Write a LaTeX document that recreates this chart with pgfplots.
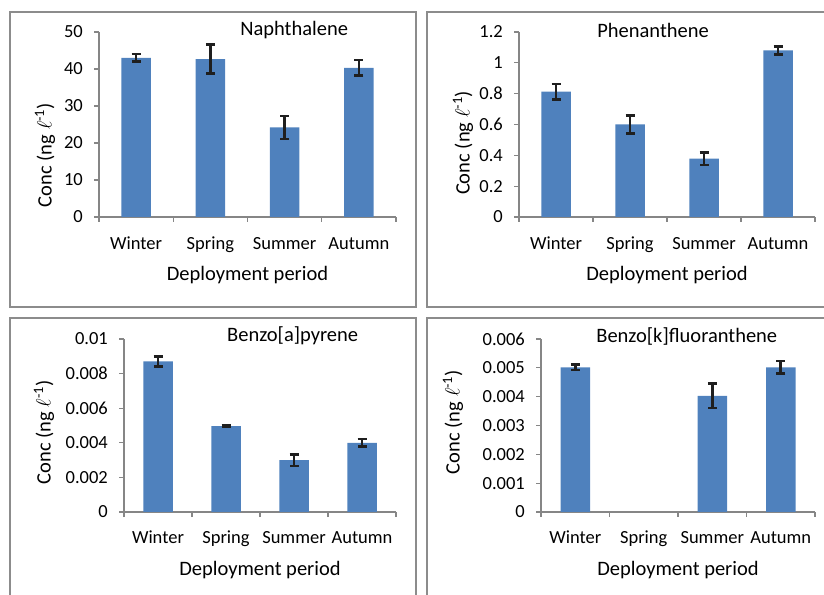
\documentclass[border=0pt]{standalone}
\usepackage{pgfplots}
\pgfplotsset{compat=1.18}
\usepackage{fontspec}
\setmainfont{Carlito}
\definecolor{barblue}{HTML}{4F81BD}
\definecolor{axgray}{HTML}{868686}
\definecolor{framegray}{HTML}{8C8C8C}
\pgfplotsset{
  panel/.style={
    scale only axis, clip=false,
    axis x line*=bottom, axis y line*=left,
    axis line style={-, axgray, line width=1.4pt},
    tick align=outside, major tick length=5pt,
    tick style={axgray, line width=1.2pt},
    xmin=-0.5, xmax=3.5, ymin=0,
    xtick={-0.5,0.5,1.5,2.5,3.5}, xticklabels={,,,,,},
    extra x ticks={0,1,2,3},
    extra x tick labels={Winter,Spring,Summer,Autumn},
    extra x tick style={major tick length=0pt},
    scaled y ticks=false,
    /pgf/number format/assume math mode=true,
    tick label style={font=\fontsize{18.5}{20}\selectfont, text=black},
    yticklabel style={anchor=east, inner sep=0pt, xshift=-11pt},
    xticklabel style={anchor=base, inner sep=0pt, yshift=-33pt},
    label style={font=\fontsize{20.5}{23}\selectfont},
    xlabel={Deployment period},
    xlabel style={at={(axis description cs:0.5,0)}, anchor=center, yshift=-58pt},
    ylabel={Conc (ng $\ell$\textsuperscript{-1})},
  },
  bars/.style={ybar, bar width=29.5pt, fill=barblue, draw=none,
    error bars/.cd, y dir=both, y explicit,
    error bar style={line width=2.6pt, black!88},
    error mark options={rotate=90, mark size=4.5pt, line width=2.6pt, black!88}},
}
\begin{document}
\begin{tikzpicture}[x=1pt,y=1pt]
\useasboundingbox (0,0) rectangle (824,594);
% panel frames
\draw[framegray, line width=2.5pt] (10,582) rectangle (416,287);
\draw[framegray, line width=2.5pt] (427,582) rectangle (850,287);
\draw[framegray, line width=2.5pt] (10,276) rectangle (416,-30);
\draw[framegray, line width=2.5pt] (427,276) rectangle (850,-30);

% Naphthalene
\begin{axis}[panel, at={(99pt,377pt)}, anchor=south west, width=297pt, height=185pt,
  ymax=50, ytick={0,10,20,30,40,50}, yticklabels={0,10,20,30,40,50},
  ylabel style={at={(axis description cs:-0.182,0.335)}, anchor=center}]
\addplot[bars] table[x=x, y=y, y error=e] {
x y e
0 43.0 1.0
1 42.7 3.9
2 24.2 3.1
3 40.3 2.1
};
\node[font=\fontsize{20.5}{23}\selectfont] at (axis description cs:0.657,1.012) {Naphthalene};
\end{axis}

% Phenanthene
\begin{axis}[panel, at={(519pt,377pt)}, anchor=south west, width=296pt, height=185pt,
  ymax=1.2, ytick={0,0.2,0.4,0.6,0.8,1,1.2}, yticklabels={0,0.2,0.4,0.6,0.8,1,1.2},
  ylabel style={at={(axis description cs:-0.189,0.40)}, anchor=center}]
\addplot[bars] table[x=x, y=y, y error=e] {
x y e
0 0.813 0.05
1 0.600 0.06
2 0.378 0.042
3 1.080 0.025
};
\node[font=\fontsize{20.5}{23}\selectfont] at (axis description cs:0.453,1.008) {Phenanthene};
\end{axis}

% Benzo[a]pyrene
\begin{axis}[panel, at={(124pt,82pt)}, anchor=south west, width=272pt, height=173pt,
  xticklabel style={yshift=2pt},
  ymax=0.01, ytick={0,0.002,0.004,0.006,0.008,0.01}, yticklabels={0,0.002,0.004,0.006,0.008,0.01},
  ylabel style={at={(axis description cs:-0.294,0.46)}, anchor=center}]
\addplot[bars] table[x=x, y=y, y error=e] {
x y e
0 0.0087 0.0003
1 0.00497 0.00006
2 0.0030 0.00033
3 0.0040 0.00022
};
\node[font=\fontsize{20.5}{23}\selectfont] at (axis description cs:0.62,1.02) {Benzo[a]pyrene};
\end{axis}

% Benzo[k]fluoranthene
\begin{axis}[panel, at={(541pt,82pt)}, anchor=south west, width=274pt, height=173pt,
  xticklabel style={yshift=2pt},
  ymax=0.006, ytick={0,0.001,0.002,0.003,0.004,0.005,0.006}, yticklabels={0,0.001,0.002,0.003,0.004,0.005,0.006},
  ylabel style={at={(axis description cs:-0.321,0.52)}, anchor=center}]
\addplot[bars] table[x=x, y=y, y error=e] {
x y e
0 0.00502 0.0001
2 0.00403 0.00043
3 0.00502 0.00022
};
\node[font=\fontsize{20.5}{23}\selectfont] at (axis description cs:0.532,1.014) {Benzo[k]fluoranthene};
\end{axis}
\end{tikzpicture}
\end{document}
